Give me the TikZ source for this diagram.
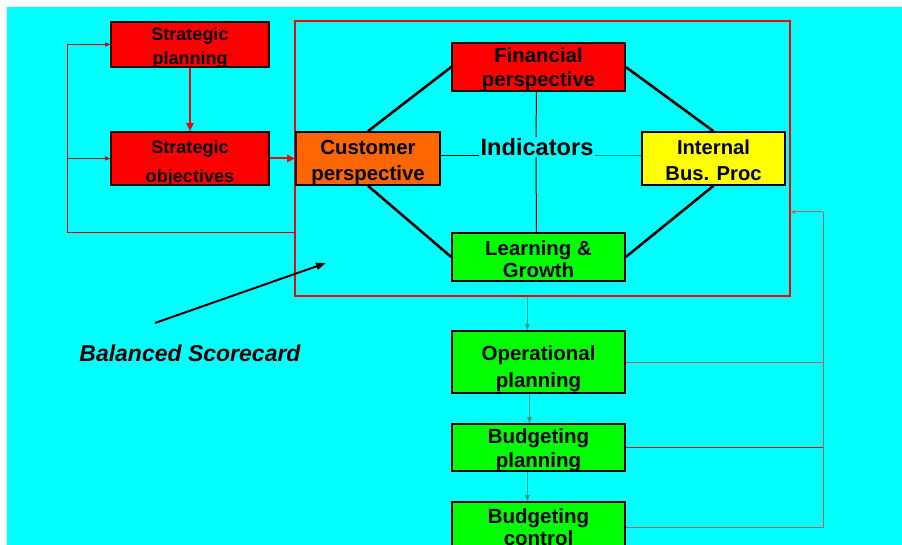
\documentclass[tikz,border=0pt]{standalone}
\usepackage{fontspec}
\setmainfont{Liberation Sans}
\usetikzlibrary{arrows.meta}
\definecolor{bgcyan}{HTML}{00FFFF}
\definecolor{boxred}{HTML}{FF0000}
\definecolor{boxorange}{HTML}{FF6600}
\definecolor{boxyellow}{HTML}{FFFF00}
\definecolor{boxgreen}{HTML}{00FF00}
\definecolor{flowgreen}{HTML}{3A9A7A}
\definecolor{fbred}{HTML}{C85A5A}
\definecolor{tealline}{HTML}{008080}
\tikzset{
  box/.style={draw=black, line width=1.6pt, inner sep=0pt},
  boxtext/.style={inner sep=0pt, align=center},
  fs/.style 2 args={font=\fontsize{#1}{#2}\selectfont\bfseries},
  loopline/.style={draw=boxred!85!black, line width=0.9pt},
  smalltip/.style={-{Triangle[length=5pt,width=4pt]}},
  bigtip/.style={-{Triangle[length=8pt,width=7pt]}},
  diag/.style={line width=2.6pt, black},
  flow/.style={flowgreen, line width=1pt, -{Triangle[length=6pt,width=4.5pt]}},
  fb/.style={fbred, line width=1pt}
}
\begin{document}
\begin{tikzpicture}[x=1pt,y=-1pt]
\useasboundingbox (0,0) rectangle (902,545);
\fill[white] (0,0) rectangle (902,545);
\fill[bgcyan] (7,7) rectangle (902,545);
\begin{scope}
\clip (7,7) rectangle (902,545);
% big balanced scorecard frame
\node[draw=boxred, line width=1.8pt, minimum width=495pt, minimum height=275pt, inner sep=0pt] (bsc) at (542.5,158.5) {};
% boxes
\node[box, fill=boxred, minimum width=158pt, minimum height=45pt] (sp) at (190,44.5) {};
\node[boxtext, fs={18}{24}] (spt) at ([yshift=-3pt]sp.center) {Strategic\\planning};
\node[box, fill=boxred, minimum width=158pt, minimum height=53pt] (so) at (190,158.5) {};
\node[boxtext, fs={18.1}{29}] (sot) at ([yshift=-5pt]so.center) {Strategic\\objectives};
\node[box, fill=boxorange, minimum width=144pt, minimum height=53pt] (cust) at (368,158.5) {};
\node[boxtext, fs={20.4}{26}] (custt) at ([yshift=-3.5pt]cust.center) {Customer\\perspective};
\node[box, fill=boxred, minimum width=173pt, minimum height=48pt] (fin) at (538.5,67) {};
\node[boxtext, fs={20.4}{24}] (fint) at ([yshift=-2pt]fin.center) {Financial\\perspective};
\node[box, fill=boxgreen, minimum width=173pt, minimum height=48pt] (lg) at (538.5,257) {};
\node[boxtext, fs={20.4}{22}] (lgt) at ([yshift=-2pt]lg.center) {Learning \&\\Growth};
\node[box, fill=boxyellow, minimum width=143pt, minimum height=53pt] (intb) at (713.5,158.5) {};
\node[boxtext, fs={20.2}{26}] (intbt) at ([yshift=-2pt]intb.center) {Internal\\Bus. Proc};
\node[inner sep=1pt, fs={23.6}{26}] (ind) at (537,147) {Indicators};
\node[box, fill=boxgreen, minimum width=173pt, minimum height=62pt] (op) at (538.5,362) {};
\node[boxtext, fs={20.5}{27}] (opt) at ([yshift=-6.5pt]op.center) {Operational\\planning};
\node[box, fill=boxgreen, minimum width=173pt, minimum height=47pt] (bp) at (538.5,447.5) {};
\node[boxtext, fs={20.5}{24}] (bpt) at ([yshift=-3pt]bp.center) {Budgeting\\planning};
\node[box, fill=boxgreen, minimum width=173pt, minimum height=50pt] (bc) at (538.5,527) {};
\node[boxtext, fs={20.5}{22}] (bct) at (bc.center) {Budgeting\\control};
% label
\node[inner sep=0pt, font=\fontsize{23}{26}\selectfont\bfseries\itshape] (bsl) at (190,353) {Balanced Scorecard};
\coordinate (bsa) at (155,323);
\coordinate (bsb) at (326,263);
\draw[line width=2pt, -{Triangle[length=10pt,width=7pt]}] (bsa) -- (bsb);
% strategic flow
\draw[boxred, line width=2pt, bigtip] (sp.south) -- (so.north);
\draw[boxred, line width=2pt, bigtip] (so.east) -- (cust.west);
% left feedback loop
\coordinate (L) at (67,232);
\draw[loopline] (bsc.west |- L) -- (L) -- (L |- sp.west);
\draw[loopline, smalltip] (L |- sp.west) -- (sp.west);
\draw[loopline, smalltip] (L |- so.west) -- (so.west);
% perspectives
\draw[diag] (cust.north) -- (fin.west);
\draw[diag] (cust.south) -- (lg.west);
\draw[diag] (intb.north) -- (fin.east);
\draw[diag] (intb.south) -- (lg.east);
\draw[line width=1pt] (cust.east |- ind.base west) -- (ind.base west);
\draw[line width=1pt, tealline] (ind.base east) -- (intb.west |- ind.base east);
\draw[line width=1pt] ([xshift=-2pt]fin.south) -- ([xshift=-1pt]ind.north);
\draw[line width=1pt] ([xshift=-1pt]ind.south) -- ([xshift=-2pt]lg.north);
% operational flow
\draw[flow] ([xshift=-11pt]bsc.south -| op.north) -- ([xshift=-11pt]op.north);
\draw[flow] ([xshift=-9pt]op.south) -- ([xshift=-9pt]bp.north);
\draw[flow] ([xshift=-11pt]bp.south) -- ([xshift=-11pt]bc.north);
% right feedback loop
\coordinate (R) at (823,212);
\draw[fb] (op.east) -- (R |- op.east);
\draw[fb, boxred] (bp.east) -- (R |- bp.east);
\draw[fb] (bc.east) -- (R |- bc.east) -- (R);
\draw[fb, -{Triangle[length=4pt,width=3.5pt]}] (R) -- (bsc.east |- R);
\end{scope}
\end{tikzpicture}
\end{document}
